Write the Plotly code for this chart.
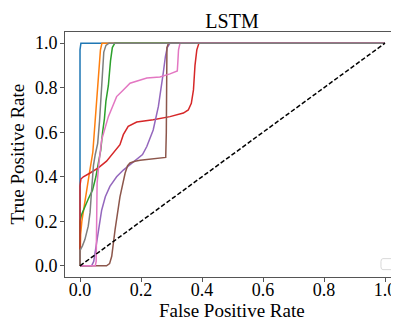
import plotly.graph_objects as go

title = "LSTM"
x_label = "False Positive Rate"
y_label = "True Positive Rate"
tick_vals = [0.0, 0.2, 0.4, 0.6, 0.8, 1.0]
tick_text = ["0.0", "0.2", "0.4", "0.6", "0.8", "1.0"]

colors = ["#1f77b4", "#ff7f0e", "#2ca02c", "#d62728", "#9467bd",
          "#8c564b", "#e377c2", "#7f7f7f"]

fpr_blue = [0, 0, 0.003, 1]
tpr_blue = [0, 0.97, 1, 1]

fpr_orange = [0, 0.002, 0.006, 0.011, 0.02, 0.03, 0.042, 0.05, 0.057, 0.063, 0.067, 0.072, 1]
tpr_orange = [0, 0.14, 0.2, 0.24, 0.32, 0.41, 0.51, 0.65, 0.78, 0.89, 0.97, 1, 1]

fpr_green = [0, 0, 0.005, 0.011, 0.027, 0.041, 0.052, 0.06, 0.068, 0.074, 0.08, 0.085,
             0.093, 0.1, 0.106, 0.114, 1]
tpr_green = [0, 0.2, 0.23, 0.25, 0.30, 0.34, 0.40, 0.46, 0.52, 0.6, 0.66, 0.74,
             0.81, 0.92, 0.98, 1, 1]

fpr_red = [0, 0, 0.003, 0.011, 0.033, 0.06, 0.087, 0.109, 0.131, 0.142, 0.158, 0.186,
           0.24, 0.295, 0.339, 0.355, 0.365, 0.372, 0.377, 0.383, 0.39, 1]
tpr_red = [0, 0.36, 0.39, 0.40, 0.417, 0.44, 0.47, 0.507, 0.544, 0.589, 0.626, 0.646,
           0.656, 0.67, 0.686, 0.70, 0.73, 0.79, 0.9, 0.97, 1, 1]

fpr_purple = [0, 0.038, 0.045, 0.05, 0.055, 0.063, 0.071, 0.083, 0.098, 0.12, 0.142,
              0.165, 0.186, 0.205, 0.219, 0.24, 0.257, 0.266, 0.273, 0.28, 0.286, 0.295, 1]
tpr_purple = [0, 0, 0.02, 0.06, 0.103, 0.18, 0.25, 0.31, 0.357, 0.40, 0.43,
              0.455, 0.477, 0.50, 0.536, 0.61, 0.716, 0.79, 0.866, 0.94, 0.98, 1, 1]

fpr_brown = [0, 0.087, 0.097, 0.104, 0.115, 0.131, 0.148, 0.156, 0.164, 0.18, 0.197,
             0.24, 0.281, 0.283, 0.283, 0.285, 0.29, 1]
tpr_brown = [0, 0, 0.01, 0.043, 0.163, 0.31, 0.417, 0.45, 0.462, 0.47, 0.474,
             0.48, 0.487, 0.6, 0.9, 0.98, 1, 1]

fpr_pink = [0, 0.05, 0.053, 0.054, 0.056, 0.062, 0.071, 0.093, 0.12, 0.142, 0.164,
            0.219, 0.262, 0.295, 0.315, 0.319, 0.321, 0.323, 0.328, 1]
tpr_pink = [0, 0, 0.02, 0.30, 0.37, 0.46, 0.566, 0.67, 0.76, 0.79, 0.82,
            0.843, 0.848, 0.862, 0.872, 0.875, 0.92, 0.97, 1, 1]

fpr_gray = [0, 0, 0.008, 0.016, 0.027, 0.033, 0.036, 0.039, 0.044, 0.05, 0.058, 0.064,
            0.069, 0.073, 0.078, 0.085, 0.095, 1]
tpr_gray = [0, 0.07, 0.09, 0.118, 0.178, 0.24, 0.3, 0.37, 0.45, 0.5, 0.55, 0.65,
            0.78, 0.89, 0.96, 0.99, 1, 1]

chance = [0, 1]

series = [
    (fpr_blue, tpr_blue), (fpr_orange, tpr_orange), (fpr_green, tpr_green),
    (fpr_red, tpr_red), (fpr_purple, tpr_purple), (fpr_brown, tpr_brown),
    (fpr_pink, tpr_pink), (fpr_gray, tpr_gray),
]

fig = go.Figure()
for (xs, ys), c in zip(series, colors):
    fig.add_trace(go.Scatter(x=xs, y=ys, mode="lines",
                             line=dict(color=c, width=1.5), showlegend=False,
                             hoverinfo="skip"))
fig.add_trace(go.Scatter(x=chance, y=chance, mode="lines",
                         line=dict(color="black", width=1.5, dash="4.5px,2.2px"),
                         showlegend=False, hoverinfo="skip"))

font = "Liberation Serif"
axis_common = dict(
    showgrid=False, zeroline=False, showline=True, linecolor="#555555", linewidth=1,
    ticks="outside", ticklen=4, tickwidth=1, tickcolor="#555555",
    tickvals=tick_vals, ticktext=tick_text, automargin=False,
    tickfont=dict(family=font, size=18, color="black"),
)
# page body has an 8px margin, so the figure is 8px smaller than the window
fig.update_layout(
    width=391, height=312,
    font=dict(family=font, color="black"),
    margin=dict(l=57, r=0, t=24, b=43, autoexpand=False),
    paper_bgcolor="white", plot_bgcolor="white",
    title=dict(text=title, x=0.5, xref="paper", xanchor="center",
               y=0.958, yanchor="middle", yref="container",
               font=dict(family=font, size=20, color="black")),
    xaxis=dict(range=[-0.0492, 1.0459], mirror=True, ticklabelstandoff=-8,
               **axis_common),
    yaxis=dict(range=[-0.05, 1.05], mirror=False, ticklabelstandoff=-1,
               **axis_common),
    annotations=[
        dict(text=x_label, xref="paper", yref="paper", x=0.5, y=0,
             xanchor="center", yanchor="middle", yshift=-33, showarrow=False,
             font=dict(family=font, size=19, color="black")),
        dict(text=y_label, xref="paper", yref="paper", x=0, y=0.5,
             xanchor="center", yanchor="middle", xshift=-48, textangle=-90,
             showarrow=False, font=dict(family=font, size=19, color="black")),
    ],
    shapes=[dict(type="path", xref="paper", yref="paper",
                 path="M 0.952 0.03 L 0.976 0.03 Q 0.982 0.03 0.982 0.042 "
                      "L 0.982 0.063 Q 0.982 0.075 0.976 0.075 L 0.952 0.075 "
                      "Q 0.946 0.075 0.946 0.063 L 0.946 0.042 Q 0.946 0.03 0.952 0.03 Z",
                 line=dict(color="#d8d8d8", width=1), fillcolor="white")],
)
fig.write_html("out.html")
